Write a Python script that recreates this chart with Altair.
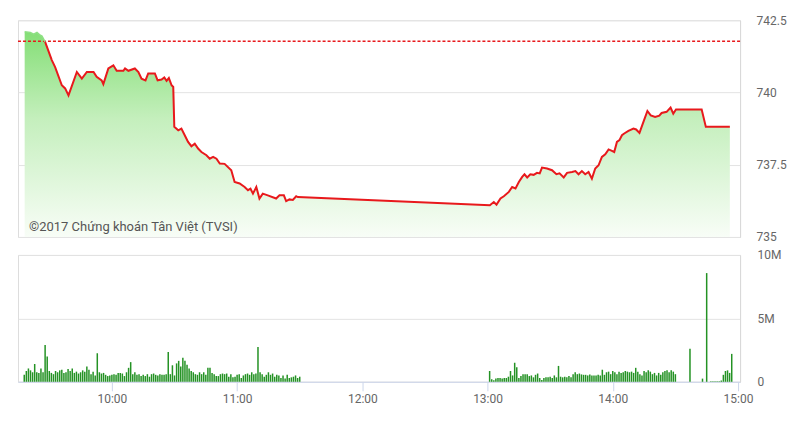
import altair as alt
import pandas as pd

# Reference (previous close) level
REF = 741.77

# Index price: time in minutes since midnight, value
price_min = [558.2, 560.9, 562.5, 564.1, 565.7, 566.5, 568.0, 571.2, 572.8, 576.0,
             577.6, 579.2, 583.2, 585.6, 588.0, 591.2, 592.7, 595.1, 595.9, 598.3,
             600.7, 602.3, 605.5, 606.3, 607.9, 611.0, 612.7, 614.2, 616.1, 617.4,
             620.6, 621.9, 623.8, 625.1, 626.2, 627.3, 628.6, 629.4, 629.9, 631.8,
             633.3, 634.9, 636.5, 638.1, 639.7, 641.3, 642.9, 645.3, 646.9, 648.5,
             650.1, 651.7, 654.0, 657.2, 658.8, 661.2, 663.6, 665.2, 666.4, 667.6,
             669.2, 670.7, 672.3, 674.7, 678.7, 680.3, 682.4, 683.5, 685.1, 686.7,
             688.3, 689.1,
             781.1, 783.0, 784.3, 786.2, 787.8, 790.2, 791.8, 793.4, 795.0, 796.6,
             797.7, 799.0, 800.5, 802.1, 803.7, 805.0, 806.1, 808.5, 810.9, 813.0,
             814.5, 816.5, 818.1, 820.5, 822.1, 823.6, 825.2, 826.8, 828.4, 830.0,
             831.6, 833.2, 834.8, 836.4, 838.0, 839.6, 840.7, 842.0, 843.2, 844.4,
             845.5, 847.5, 849.9, 851.2, 852.8, 854.7, 856.6, 858.2, 860.3, 862.3,
             863.4, 865.8, 867.7, 869.0, 870.3, 882.6, 884.6, 896.1]
price_val = [742.10, 742.08, 742.02, 742.08, 741.98, 741.95, 741.75, 741.12, 740.88, 740.25,
             740.14, 739.90, 740.71, 740.48, 740.71, 740.71, 740.54, 740.42, 740.29, 740.83,
             740.94, 740.75, 740.75, 740.83, 740.75, 740.83, 740.71, 740.48, 740.42, 740.66,
             740.66, 740.42, 740.45, 740.52, 740.40, 740.50, 740.25, 740.19, 738.81, 738.69,
             738.75, 738.52, 738.29, 738.14, 738.23, 738.06, 737.94, 737.83, 737.71, 737.77,
             737.71, 737.54, 737.53, 737.31, 736.90, 736.85, 736.73, 736.62, 736.67, 736.50,
             736.73, 736.33, 736.50, 736.44, 736.33, 736.44, 736.44, 736.24, 736.30, 736.28,
             736.41, 736.38,
             736.10, 736.21, 736.12, 736.33, 736.41, 736.56, 736.73, 736.68, 736.90, 737.08,
             737.17, 737.06, 737.17, 737.15, 737.22, 737.20, 737.40, 737.37, 737.31, 737.17,
             737.20, 737.06, 737.22, 737.25, 737.28, 737.17, 737.28, 737.17, 737.25, 737.02,
             737.37, 737.48, 737.77, 737.86, 738.03, 737.98, 737.94, 738.29, 738.35, 738.52,
             738.58, 738.67, 738.75, 738.72, 738.60, 738.98, 739.36, 739.21, 739.15, 739.20,
             739.29, 739.33, 739.48, 739.27, 739.41, 739.41, 738.81, 738.81]

# Volume (millions) per minute
am_start, am_end = 558, 690
am_vol = [0.55, 0.85, 1.05, 0.9, 0.75, 1.4, 0.75, 0.7, 1.05, 0.75,
          2.9, 2.0, 0.85, 0.7, 0.6, 0.85, 0.75, 0.9, 0.95, 0.7,
          0.75, 1.0, 0.85, 1.05, 0.7, 0.8, 0.65, 0.75, 0.9, 0.8,
          1.2, 0.95, 0.6, 0.8, 0.5, 2.25, 0.75, 0.65, 0.7, 0.55,
          0.45, 0.5, 0.55, 0.6, 0.55, 0.7, 0.7, 0.65, 0.45, 0.75,
          1.1, 1.55, 0.6, 0.75, 0.55, 0.6, 0.45, 0.55, 0.45, 0.6,
          0.4, 0.6, 0.65, 0.55, 0.5, 0.6, 0.55,
          0.55, 0.6, 2.35, 0.6, 1.3, 0.5, 1.45, 1.65, 1.2, 1.9,
          1.65, 1.35, 1.05, 0.85, 0.75, 0.6, 0.55, 0.75, 0.6, 0.75,
          0.55, 1.1, 1.1, 0.7, 0.6, 0.45, 0.45, 0.6, 0.65, 0.6,
          0.65, 0.4, 0.6, 0.35, 0.4, 0.55, 0.6, 0.3, 0.5, 0.6,
          0.65, 0.55, 0.75, 0.6, 0.65, 2.75, 0.75, 0.6, 0.4, 0.55,
          0.75, 0.55, 0.65, 0.4, 0.55, 0.5, 0.3, 0.5, 0.25, 0.55,
          0.3, 0.35, 0.4, 0.5, 0.3, 0.4]
pm_start, pm_end = 781, 870
pm_vol = [0.85, 0.2, 0.13, 0.25, 0.3, 0.3, 0.25, 0.3, 0.3, 0.4,
          0.85, 0.5, 1.5, 1.15, 0.3, 0.45, 0.6, 0.6, 0.6, 0.45,
          0.5, 0.35, 0.55, 0.65, 0.3, 0.15, 0.3, 0.35, 0.35, 0.4,
          0.3, 0.5, 0.35, 1.25, 0.4, 0.35, 0.4, 0.35, 0.45, 0.35,
          0.6, 0.75, 0.6, 0.65, 0.58, 0.55, 0.55, 0.5, 0.58, 0.5,
          0.5, 0.5, 0.55, 0.5, 0.95, 0.55, 0.75, 0.8, 0.6, 0.85,
          0.75, 0.6, 0.8, 0.7, 0.75, 0.85, 0.8, 0.75, 0.8, 0.7,
          1.1, 0.8, 0.6, 0.5, 0.85, 0.75, 0.9, 0.8, 0.6, 0.7,
          0.5, 0.7, 0.55, 0.75, 0.85, 0.9, 0.75, 0.9, 0.8, 0.6]
late_min = [877, 883, 885, 887, 888, 889, 890, 891, 892, 893, 894, 895, 896, 897]
late_vol = [2.6, 0.25, 8.57, 0.05, 0.05, 0.05, 0.05, 0.05, 0.1, 0.55, 0.85, 0.9, 0.7, 2.2]

x_ticks = [600, 660, 720, 780, 840, 900]
price_ticks = [735, 737.5, 740, 742.5]
vol_ticks = [0, 5, 10]
watermark = "©2017 Chứng khoán Tân Việt (TVSI)"

# ---- build tables ----
price_df = pd.DataFrame({"t": price_min, "p": price_val})
price_df["base"] = 735.0
n_up = 0
while price_val[n_up] >= REF:
    n_up += 1
up_df = price_df.iloc[: n_up + 1]
down_df = price_df.iloc[n_up:]

vol_df = pd.DataFrame({
    "t": list(range(am_start, am_end + 1)) + list(range(pm_start, pm_end + 1)) + late_min,
    "v": am_vol + pm_vol + late_vol,
})

FONT = "Roboto"
LBL = "#666666"
xscale = alt.Scale(domain=[555, 901], nice=False, zero=False, padding=0)
pscale = alt.Scale(domain=[735, 742.5], nice=False, zero=False)
vscale = alt.Scale(domain=[0, 10], nice=False, padding=0)

yaxis_top = alt.Axis(orient="right", values=price_ticks, format=".1~f", grid=True,
                     gridColor="#e3e3e3", domain=True, domainColor="#d9d9d9",
                     ticks=False, labelPadding=16, labelColor=LBL, labelFont=FONT,
                     labelFontSize=12, title=None)

grad = alt.Gradient(gradient="linear", x1=1, x2=1, y1=0, y2=1,
                    stops=[alt.GradientStop(color="#84de76", offset=0),
                           alt.GradientStop(color="#c4efbc", offset=0.42),
                           alt.GradientStop(color="#f8fdf7", offset=1)])

area = alt.Chart(price_df).mark_area(color=grad).encode(
    x=alt.X("t:Q", scale=xscale, axis=None),
    y=alt.Y("p:Q", scale=pscale, axis=yaxis_top),
    y2="base:Q",
)
ref = alt.Chart(pd.DataFrame({"r": [REF]})).mark_rule(
    color="#e8191c", strokeDash=[3, 2], strokeWidth=1.5
).encode(y=alt.Y("r:Q", scale=pscale))
line_up = alt.Chart(up_df).mark_line(color="#8ee084", strokeWidth=1.5).encode(
    x=alt.X("t:Q", scale=xscale), y=alt.Y("p:Q", scale=pscale))
line_down = alt.Chart(down_df).mark_line(color="#e8191c", strokeWidth=2).encode(
    x=alt.X("t:Q", scale=xscale), y=alt.Y("p:Q", scale=pscale))
text = alt.Chart(pd.DataFrame({"t": [560.3], "p": [735.35], "s": [watermark]})).mark_text(
    align="left", baseline="middle", font=FONT, fontSize=13, color="#555555"
).encode(x=alt.X("t:Q", scale=xscale), y=alt.Y("p:Q", scale=pscale), text="s:N")

top = alt.layer(area, ref, line_up, line_down, text).properties(width=723, height=217)

bars = alt.Chart(vol_df).mark_bar(size=1.5, color="#249224").encode(
    x=alt.X("t:Q", scale=xscale,
            axis=alt.Axis(values=x_ticks, labelExpr="floor(datum.value/60) + ':00'",
                          grid=False, domainColor="#ccd6eb", tickColor="#ccd6eb",
                          tickSize=9, labelPadding=3, labelFlush=False,
                          labelColor=LBL, labelFont=FONT, labelFontSize=12, title=None)),
    y=alt.Y("v:Q", scale=vscale,
            axis=alt.Axis(orient="right", values=vol_ticks,
                          labelExpr="datum.value == 0 ? '0' : datum.value + 'M'",
                          grid=True, gridColor="#e3e3e3", domain=True, domainColor="#d9d9d9",
                          ticks=False, labelPadding=17, labelColor=LBL, labelFont=FONT,
                          labelFontSize=12, title=None)),
)
bottom = bars.properties(width=723, height=127)

chart = alt.vconcat(top, bottom, spacing=18, bounds="flush").properties(
    padding={"left": 8, "top": 5, "right": 5, "bottom": 5}
).configure_view(stroke=None).configure(background="white")

chart.save("out.html", embed_options={"renderer": "svg", "actions": False})
